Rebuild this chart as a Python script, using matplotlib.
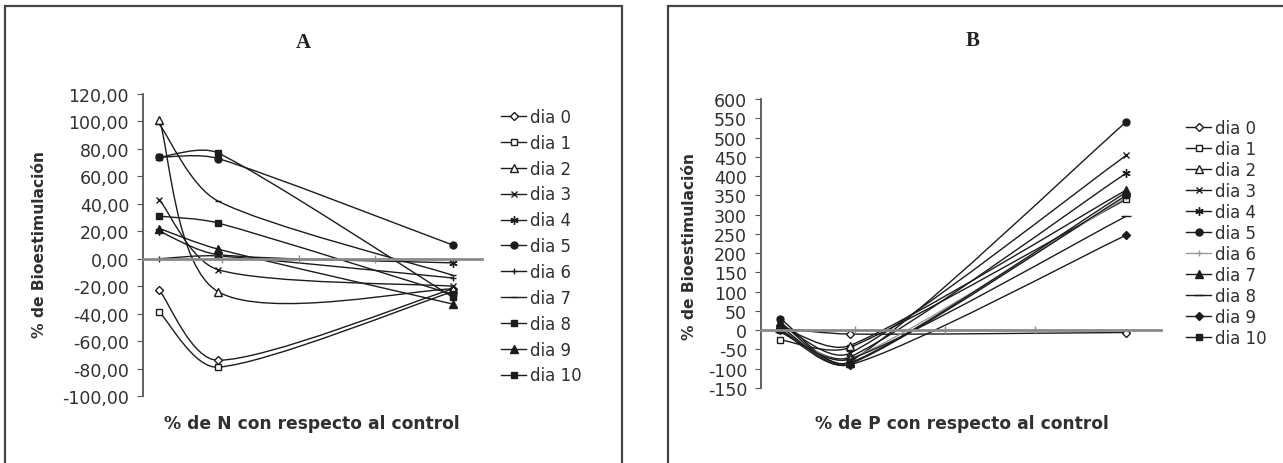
import matplotlib.pyplot as plt
import numpy as np
from matplotlib.path import Path
from matplotlib.patches import PathPatch, Rectangle
from matplotlib.lines import Line2D

# x positions of the three N / P levels (axis has no labels)
x_levels = [0, 20, 100]
series_names = ["dia 0", "dia 1", "dia 2", "dia 3", "dia 4", "dia 5",
                "dia 6", "dia 7", "dia 8", "dia 9", "dia 10"]

# panel A: % de N
a_dia0 = [-23, -74, -22]
a_dia1 = [-39, -79, -24]
a_dia2 = [101, -24, -22]
a_dia3 = [43, -8, -20]
a_dia4 = [20, 3, -3]
a_dia5 = [74, 73, 10]
a_dia6 = [0, 2, -14]
a_dia7 = [98, 42, -12]
a_dia8 = [31, 26, -26]
a_dia9 = [22, 7, -33]
a_dia10 = [74, 77, -28]

# panel B: % de P
b_dia0 = [5, -10, -6]
b_dia1 = [-25, -45, 340]
b_dia2 = [10, -40, 364]
b_dia3 = [15, -60, 454]
b_dia4 = [0, -70, 408]
b_dia5 = [30, -82, 541]
b_dia6 = [5, -75, 345]
b_dia7 = [20, -85, 358]
b_dia8 = [-5, -75, 296]
b_dia9 = [10, -90, 247]
b_dia10 = [0, -88, 350]

a_vals = [a_dia0, a_dia1, a_dia2, a_dia3, a_dia4, a_dia5, a_dia6, a_dia7, a_dia8, a_dia9, a_dia10]
b_vals = [b_dia0, b_dia1, b_dia2, b_dia3, b_dia4, b_dia5, b_dia6, b_dia7, b_dia8, b_dia9, b_dia10]

ink = "#1c1c1c"
txt = "#303030"
# (marker, size, filled) per series
a_markers = [("D", 4, False), ("s", 5, False), ("^", 5.5, False), ("x", 5, False),
             ((6, 2, 0), 6, True), ("o", 5, True), ("+", 5, True), ("_", 5, True),
             ("s", 5, True), ("^", 5.5, True), ("s", 5, True)]
b_markers = [("D", 4, False), ("s", 5, False), ("^", 5.5, False), ("x", 5, False),
             ((6, 2, 0), 6, True), ("o", 5, True), ("+", 5, True), ("^", 5.5, True),
             ("_", 7, True), ("D", 4.5, True), ("s", 5, True)]
b_colors = [ink] * 6 + ["#9a9a9a"] + [ink] * 4


def smooth_path(ax, xs, ys):
    # excel-like smoothed line: cubic bezier, tangent = (next - prev) / 6,
    # handle shortened on the short side of uneven segments (in screen space)
    d = ax.transData.transform(np.column_stack([xs, ys]).astype(float))
    ext = np.vstack([d[0], d, d[-1]])
    seg = np.linalg.norm(np.diff(d, axis=0), axis=1)
    verts = [d[0]]
    codes = [Path.MOVETO]
    for i in range(len(d) - 1):
        p0, p1, p2, p3 = ext[i], ext[i + 1], ext[i + 2], ext[i + 3]
        s_out, s_in = 1.0, 1.0
        if i > 0:
            s_out = min(1.0, 2 * seg[i] / (seg[i - 1] + seg[i]))
        if i + 1 < len(seg):
            s_in = min(1.0, 2 * seg[i] / (seg[i] + seg[i + 1]))
        verts += [p1 + s_out * (p2 - p0) / 6, p2 - s_in * (p3 - p1) / 6, p2]
        codes += [Path.CURVE4] * 3
    verts = ax.transData.inverted().transform(np.array(verts))
    return Path(verts, codes)


def draw_panel(ax, vals, markers, colors, yticks, ylabels, ylim):
    ax.set_xlim(-5.6, 110)
    ax.set_ylim(*ylim)
    for v, (m, ms, filled), c in zip(vals, markers, colors):
        ax.add_patch(PathPatch(smooth_path(ax, x_levels, v), fill=False, ec=c, lw=1.0))
        ax.plot(x_levels, v, ls="none", marker=m, ms=ms, mec=c,
                mfc=c if filled else "white", mew=1.0)
    ax.set_yticks(yticks)
    ax.set_yticklabels(ylabels)
    ax.set_xticks([21.5, 47.5, 73.5])
    ax.set_xticklabels([])
    for s in ["top", "right"]:
        ax.spines[s].set_visible(False)
    ax.spines["bottom"].set_position(("data", 0))
    ax.spines["bottom"].set_color("#8a8a8a")
    ax.spines["bottom"].set_linewidth(2)
    ax.spines["left"].set_color("#555555")
    ax.spines["left"].set_linewidth(1.3)
    ax.tick_params(axis="x", direction="inout", length=6, color="#8a8a8a", width=1)
    ax.tick_params(axis="y", direction="out", length=4, color="#555555",
                   labelsize=12.5, labelcolor=txt, pad=6)
    ax.set_facecolor("none")


def legend(ax, markers, colors, x, y, spacing):
    handles = [Line2D([], [], color=c, lw=1.0, marker=m, ms=ms, mec=c,
                      mfc=c if f else "white", mew=1.0)
               for (m, ms, f), c in zip(markers, colors)]
    ax.legend(handles, series_names, loc="upper left", bbox_to_anchor=(x, y),
              bbox_transform=ax.figure.transFigure, frameon=False, fontsize=12,
              labelcolor=txt, handlelength=1.5, handletextpad=0.25,
              labelspacing=spacing, borderpad=0, borderaxespad=0)


W, H = 1283, 464
fig = plt.figure(figsize=(W / 100, H / 100), dpi=100)

axA = fig.add_axes([143 / W, 1 - 397 / H, 339 / W, 302 / H])
a_ticks = np.arange(-100, 121, 20)
draw_panel(axA, a_vals, a_markers, [ink] * 11, a_ticks,
           [f"{t:.2f}".replace(".", ",") for t in a_ticks], (-100, 120))
legend(axA, a_markers, [ink] * 11, 501 / W, 1 - 109 / H, 0.47)

axB = fig.add_axes([761 / W, 1 - 389 / H, 400 / W, 289 / H])
b_ticks = np.arange(-150, 601, 50)
draw_panel(axB, b_vals, b_markers, b_colors, b_ticks,
           [str(t) for t in b_ticks], (-150, 600))
legend(axB, b_markers, b_colors, 1186 / W, 1 - 120 / H, 0.18)

# panel titles and axis titles
fig.text(303 / W, 1 - 43 / H, "A", family="Liberation Serif", weight="bold",
         fontsize=15, ha="center", va="center", color="#222222")
fig.text(973 / W, 1 - 41 / H, "B", family="Liberation Serif", weight="bold",
         fontsize=15, ha="center", va="center", color="#222222")
fig.text(312 / W, 1 - 424 / H, "% de N con respecto al control", weight="bold",
         fontsize=12.3, ha="center", va="center", color=txt)
fig.text(962 / W, 1 - 424 / H, "% de P con respecto al control", weight="bold",
         fontsize=12.3, ha="center", va="center", color=txt)
fig.text(40 / W, 1 - 245 / H, "% de Bioestimulación", weight="bold", rotation=90,
         fontsize=11.2, ha="center", va="center", color=txt)
fig.text(690 / W, 1 - 247 / H, "% de Bioestimulación", weight="bold", rotation=90,
         fontsize=11.2, ha="center", va="center", color=txt)

# panel frames (cut off by the image edge)
fig.add_artist(Rectangle((5 / W, -0.1), (622 - 5) / W, 1.1 - 7 / H,
                         transform=fig.transFigure, fill=False, ec="#444444", lw=1.6))
fig.add_artist(Rectangle((668 / W, -0.1), 0.5, 1.1 - 7 / H,
                         transform=fig.transFigure, fill=False, ec="#444444", lw=1.6))

fig.savefig("out.png", dpi=100)
